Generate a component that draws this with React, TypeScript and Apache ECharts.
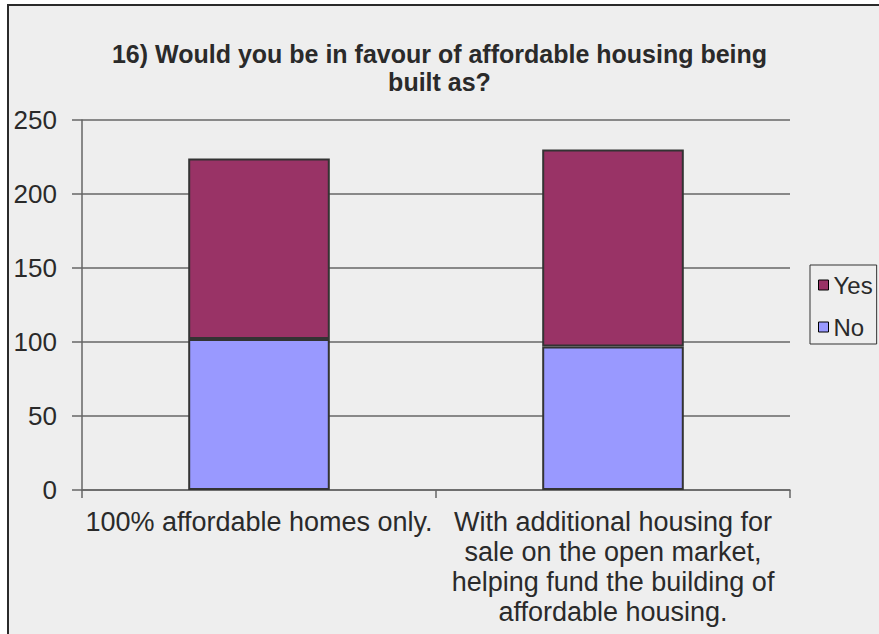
import React, { useEffect, useRef } from "react";
import * as echarts from "echarts";

const categories = [
  "100% affordable homes only.",
  "With additional housing for\nsale on the open market,\nhelping fund the building of\naffordable housing.",
];
const noValues = [102, 97];
const yesValues = [122, 133];
const yTicks = { min: 0, max: 250, interval: 50 };

const FONT = "'Liberation Sans', Arial, sans-serif";

export default function App() {
  const ref = useRef<HTMLDivElement>(null);
  useEffect(() => {
    document.body.style.margin = "0";
    const chart = echarts.init(ref.current!, null, { renderer: "svg" });
    chart.setOption({
      animation: false,
      backgroundColor: "#ffffff",
      textStyle: { fontFamily: FONT },
      graphic: [
        {
          type: "rect",
          z: -10,
          silent: true,
          shape: { x: 8, y: 5, width: 900, height: 700 },
          style: { fill: "#eeeeee", stroke: "#2a2a2a", lineWidth: 2 },
        },
      ],
      title: {
        text: "16) Would you be in favour of affordable housing being\nbuilt as?",
        left: "center",
        top: 35,
        textStyle: {
          fontFamily: FONT,
          fontSize: 25,
          fontWeight: "bold",
          color: "#2a2a2a",
          lineHeight: 28,
        },
      },
      legend: {
        data: ["Yes", "No"],
        orient: "vertical",
        left: 810,
        top: 265,
        padding: [8, 4, 5, 8],
        itemGap: 18,
        itemWidth: 10,
        itemHeight: 10,
        itemTextGap: 2,
        borderColor: "#333333",
        borderWidth: 1,
        icon: "rect",
        itemStyle: { borderColor: "#000000", borderWidth: 1 },
        textStyle: { fontFamily: FONT, fontSize: 24, color: "#2a2a2a", lineHeight: 24 },
      },
      grid: { left: 82, right: 89, top: 120, bottom: 144, containLabel: false },
      xAxis: {
        type: "category",
        data: categories,
        axisLine: { lineStyle: { color: "#666666", width: 1.5 } },
        axisTick: { show: true, length: 8, alignWithLabel: false, lineStyle: { color: "#666666", width: 1.5 } },
        axisLabel: {
          interval: 0,
          margin: 17,
          fontFamily: FONT,
          fontSize: 27,
          lineHeight: 30,
          color: "#2a2a2a",
          align: "center",
        },
      },
      yAxis: {
        type: "value",
        min: yTicks.min,
        max: yTicks.max,
        interval: yTicks.interval,
        axisLine: { show: true, lineStyle: { color: "#666666", width: 1.5 } },
        axisTick: { show: true, length: 10, lineStyle: { color: "#666666", width: 1.5 } },
        splitLine: { show: true, lineStyle: { color: "#666666", width: 1.5 } },
        axisLabel: { margin: 25, fontFamily: FONT, fontSize: 26, color: "#2a2a2a" },
      },
      series: [
        {
          name: "No",
          type: "bar",
          stack: "total",
          barWidth: "40%",
          data: noValues,
          itemStyle: { color: "#9999ff", borderColor: "#333333", borderWidth: 2 },
        },
        {
          name: "Yes",
          type: "bar",
          stack: "total",
          barWidth: "40%",
          data: yesValues,
          itemStyle: { color: "#993366", borderColor: "#333333", borderWidth: 2 },
        },
      ],
    });
    return () => chart.dispose();
  }, []);
  return <div ref={ref} style={{ width: 879, height: 634 }} />;
}
